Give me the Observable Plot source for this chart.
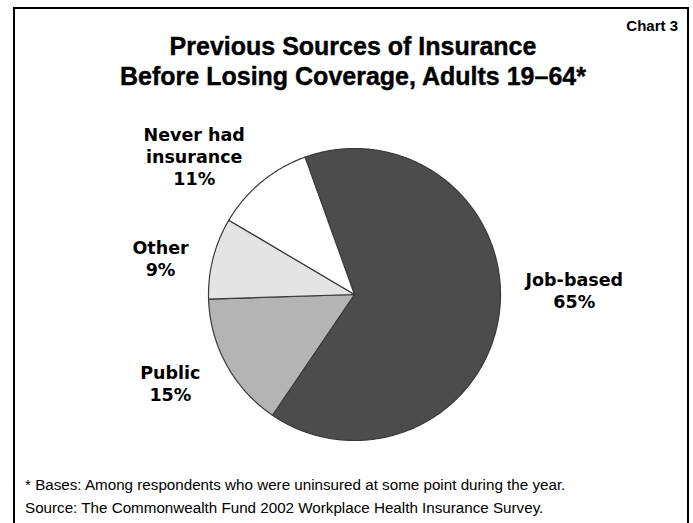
<!DOCTYPE html>
<html>
<head>
<meta charset="utf-8">
<script src="https://cdn.jsdelivr.net/npm/d3@7"></script>
<script src="https://cdn.jsdelivr.net/npm/@observablehq/plot@0.6"></script>
<style>
  html, body { margin: 0; padding: 0; background: #fff; }
  #page { position: relative; width: 693px; height: 523px; overflow: hidden; background: #fff; font-family: "Liberation Sans", Arial, sans-serif; }
  #frame { position: absolute; left: 13px; top: 7px; width: 672px; height: 600px; border: 2px solid #000; }
  #chartno { position: absolute; right: 15px; top: 17px; font-weight: bold; font-size: 15px; }
  #title { position: absolute; left: 0; width: 706px; top: 31px; text-align: center; font-weight: bold; font-size: 25px; line-height: 30px; -webkit-text-stroke: 0.4px #000; }
  #plot { position: absolute; left: 0; top: 100px; }
  .note { position: absolute; left: 25px; font-size: 15.2px; color: #000; }
</style>
</head>
<body>
<div id="page">
  <div id="frame"></div>
  <div id="chartno">Chart 3</div>
  <div id="title">Previous Sources of Insurance<br>Before Losing Coverage, Adults 19–64*</div>
  <div id="plot"></div>
  <div class="note" style="top:476px">* Bases: Among respondents who were uninsured at some point during the year.</div>
  <div class="note" style="top:499px">Source: The Commonwealth Fund 2002 Workplace Health Insurance Survey.</div>
</div>
<script>
// Data
const categories = ["Job-based", "Public", "Other", "Never had insurance"];
const values = [65, 15, 9, 11];
const labelText = ["Job-based\n65%", "Public\n15%", "Other\n9%", "Never had\ninsurance\n11%"];

// Styles
const colors = ["#4c4c4c", "#b4b4b4", "#e4e4e4", "#ffffff"];
const startDeg = -19.8;           // clockwise from 12 o'clock
const labelRadius = 1.4;
const labelDx = [17, -5, 4, -30];
const labelDy = [-30, -10, 14, 19];

// Build slice polygons (unit circle, y up)
const total = d3.sum(values);
const slices = [];
const labels = [];
let acc = startDeg;
values.forEach((v, i) => {
  const a0 = acc, a1 = acc + v / total * 360;
  acc = a1;
  const pts = [{cat: categories[i], x: 0, y: 0}];
  const n = Math.max(2, Math.ceil((a1 - a0) / 0.5));
  for (let k = 0; k <= n; k++) {
    const a = (a0 + (a1 - a0) * k / n) * Math.PI / 180;
    pts.push({cat: categories[i], x: Math.sin(a), y: Math.cos(a)});
  }
  pts.push({cat: categories[i], x: 0, y: 0});
  slices.push(...pts);
  const am = ((a0 + a1) / 2) * Math.PI / 180;
  labels.push({cat: categories[i], text: labelText[i], x: labelRadius * Math.sin(am), y: labelRadius * Math.cos(am), dx: labelDx[i], dy: labelDy[i]});
});

const W = 693, H = 360, R = 146, CX = 354, CY = 194;
const chart = Plot.plot({
  width: W,
  height: H,
  margin: 0,
  x: {domain: [-CX / R, (W - CX) / R], axis: null},
  y: {domain: [-(H - CY) / R, CY / R], axis: null},
  color: {domain: categories, range: colors},
  marks: [
    Plot.line(slices, {x: "x", y: "y", z: "cat", fill: "cat", stroke: "#3a3a3a", strokeWidth: 1.2, strokeLinejoin: "round"}),
    ...labels.map(l => Plot.text([l], {
      x: "x", y: "y", text: "text", dx: l.dx, dy: l.dy,
      fontFamily: "DejaVu Sans", fontWeight: "bold", fontSize: 17.5, lineHeight: 1.27, fill: "#000"
    }))
  ]
});
document.getElementById("plot").appendChild(chart);
</script>
</body>
</html>
